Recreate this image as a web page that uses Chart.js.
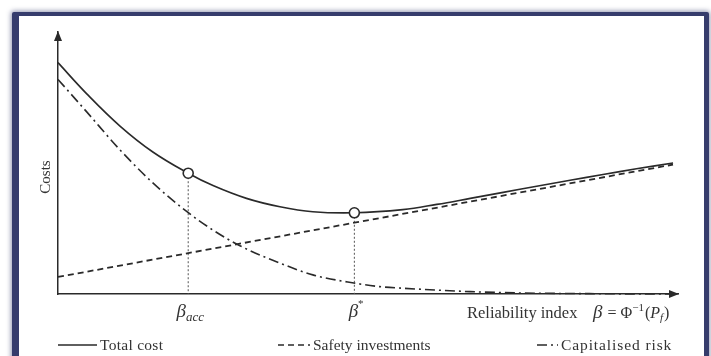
<!DOCTYPE html>
<html>
<head>
<meta charset="utf-8">
<script src="https://cdn.jsdelivr.net/npm/chart.js@4/dist/chart.umd.min.js"></script>
<style>
  html, body { margin: 0; padding: 0; background: #ffffff; overflow: hidden; }
  body { width: 711px; height: 356px; position: relative; }
  #frame {
    position: absolute; left: 12px; top: 12px; width: 685px; height: 380px;
    background: #ffffff;
    border-style: solid; border-color: #363c6c;
    border-width: 4px 5px 5px 7px;
    box-shadow: 0 0 5px 1px rgba(54, 60, 108, 0.55);
    border-radius: 2px;
  }
  #wrap { position: absolute; left: 0; top: 0; width: 711px; height: 356px; }
</style>
</head>
<body>
<div id="frame"></div>
<div id="wrap"><canvas id="chart" width="711" height="356"></canvas></div>
<script>
// Reliability index positions (x) and cost levels (y), arbitrary units
const totalX   = [0, 0.46, 1.0, 1.53, 2.1, 2.5, 3.04, 3.58, 4.11, 4.78, 5.56, 6.11, 6.65, 7.18, 7.72, 8.26, 8.79, 9.33, 9.92];
const totalY   = [8.83, 7.65, 6.41, 5.42, 4.61, 4.14, 3.65, 3.33, 3.14, 3.10, 3.22, 3.42, 3.65, 3.88, 4.11, 4.34, 4.56, 4.78, 5.00];

const safetyX  = [0, 2.1, 4.78, 9.92];
const safetyY  = [0.65, 1.56, 2.72, 4.94];

const riskX    = [0, 0.46, 1.0, 1.53, 2.08, 2.5, 2.96, 3.58, 4.11, 4.77, 5.19, 5.56, 6.11, 6.65, 7.45, 8.74, 9.92];
const riskY    = [8.19, 6.96, 5.50, 4.24, 3.14, 2.44, 1.81, 1.18, 0.73, 0.42, 0.28, 0.22, 0.15, 0.09, 0.04, 0.01, 0.0];

// Acceptable and optimal reliability levels, marked on the total cost curve
const betaLabels = ['acc', '*'];
const betaX      = [2.1, 4.78];
const betaY      = [4.61, 3.10];

const seriesLabels = ['Total cost', 'Safety investments', 'Capitalised risk'];
const axisTitles   = ['Costs', 'Reliability index'];

const pts = (xs, ys) => xs.map((x, i) => ({ x: x, y: ys[i] }));
const SERIF = '"Liberation Serif", "DejaVu Serif", serif';
const INK = '#2a2a2a';
const TEXT = '#333333';

// Arrowheads on both axes, axis captions, beta labels and the legend row
const annotate = {
  id: 'annotate',
  afterDraw(chart) {
    const { ctx, chartArea: a, scales: { x } } = chart;
    ctx.save();
    ctx.fillStyle = INK;
    // y arrow
    ctx.beginPath();
    ctx.moveTo(a.left, a.top - 1);
    ctx.lineTo(a.left - 4, a.top + 9);
    ctx.lineTo(a.left + 4, a.top + 9);
    ctx.closePath();
    ctx.fill();
    // x arrow
    ctx.beginPath();
    ctx.moveTo(a.right + 1, a.bottom);
    ctx.lineTo(a.right - 9, a.bottom - 4);
    ctx.lineTo(a.right - 9, a.bottom + 4);
    ctx.closePath();
    ctx.fill();

    // y caption
    ctx.save();
    ctx.translate(a.left - 8, (a.top + a.bottom) / 2 + 14);
    ctx.rotate(-Math.PI / 2);
    ctx.font = '15px ' + SERIF;
    ctx.textAlign = 'center';
    ctx.textBaseline = 'alphabetic';
    ctx.fillStyle = TEXT;
    ctx.fillText(axisTitles[0], 0, 0);
    ctx.restore();

    // beta labels under the axis
    ctx.fillStyle = TEXT;
    ctx.textBaseline = 'alphabetic';
    betaX.forEach((bx, i) => {
      const px = x.getPixelForValue(bx);
      const base = a.bottom + 23;
      ctx.font = 'italic 19px ' + SERIF;
      const wB = ctx.measureText('β').width;
      if (betaLabels[i] === '*') {
        ctx.textAlign = 'left';
        ctx.fillText('β', px - wB / 2 - 1, base);
        ctx.font = '11px ' + SERIF;
        ctx.fillText('*', px + wB / 2 - 1, base - 10);
      } else {
        ctx.font = 'italic 13px ' + SERIF;
        const wS = ctx.measureText(betaLabels[i]).width;
        const left = px - (wB + wS) / 2 + 2;
        ctx.font = 'italic 19px ' + SERIF;
        ctx.textAlign = 'left';
        ctx.fillText('β', left, base);
        ctx.font = 'italic 13px ' + SERIF;
        ctx.fillText(betaLabels[i], left + wB, base + 4);
      }
    });

    // x caption: Reliability index  β = Φ⁻¹(P_f)
    const capBase = a.bottom + 24;
    let cx = 467;
    ctx.textAlign = 'left';
    ctx.font = '16.5px ' + SERIF;
    ctx.fillText(axisTitles[1], cx, capBase);
    cx = 593;
    ctx.font = 'italic 19px ' + SERIF;
    ctx.fillText('β', cx, capBase);
    cx += ctx.measureText('β').width + 5;
    ctx.font = '16px ' + SERIF;
    ctx.fillText('= Φ', cx, capBase);
    cx += ctx.measureText('= Φ').width;
    ctx.font = '11px ' + SERIF;
    ctx.fillText('−1', cx, capBase - 7);
    cx += ctx.measureText('−1').width + 1;
    ctx.font = '16px ' + SERIF;
    ctx.fillText('(', cx, capBase);
    cx += ctx.measureText('(').width;
    ctx.font = 'italic 16px ' + SERIF;
    ctx.fillText('P', cx, capBase);
    cx += ctx.measureText('P').width;
    ctx.font = 'italic 11px ' + SERIF;
    ctx.fillText('f', cx, capBase + 3);
    cx += ctx.measureText('f').width + 1;
    ctx.font = '16px ' + SERIF;
    ctx.fillText(')', cx, capBase);

    // legend row: sample stroke, then the label spread toward its slot end
    const legendY = 350;
    const items = [
      { ds: 0, x0: 58, x1: 97, end: 163 },
      { ds: 1, x0: 278, x1: 310, end: 429 },
      { ds: 2, x0: 537, x1: 558, end: 672 }
    ];
    items.forEach(it => {
      const ds = chart.data.datasets[it.ds];
      ctx.save();
      ctx.strokeStyle = ds.borderColor;
      ctx.lineWidth = 1.5;
      ctx.setLineDash(ds.borderDash || []);
      ctx.beginPath();
      ctx.moveTo(it.x0, legendY - 5);
      ctx.lineTo(it.x1, legendY - 5);
      ctx.stroke();
      ctx.restore();
      ctx.save();
      ctx.font = '15.5px ' + SERIF;
      ctx.fillStyle = TEXT;
      ctx.textAlign = 'left';
      const tx = it.x1 + 3;
      const w = ctx.measureText(ds.label).width;
      const n = ds.label.length;
      const sp = Math.max(0, Math.min(0.9, (it.end - tx - w) / (n - 1)));
      ctx.letterSpacing = sp.toFixed(2) + 'px';
      ctx.fillText(ds.label, tx, legendY);
      ctx.restore();
    });
    ctx.restore();
  }
};

const curve = (label, xs, ys, dash) => ({
  label: label,
  data: pts(xs, ys),
  showLine: true,
  borderColor: INK,
  borderWidth: 1.6,
  borderDash: dash,
  pointRadius: 0,
  pointHoverRadius: 0,
  cubicInterpolationMode: 'monotone',
  fill: false,
  clip: false,
  order: 2
});

const dropLines = betaX.map((bx, i) => ({
  label: 'drop' + i,
  data: [{ x: bx, y: betaY[i] }, { x: bx, y: 0 }],
  showLine: true,
  borderColor: '#555',
  borderWidth: 1,
  borderDash: [2, 2],
  pointRadius: 0,
  clip: false,
  order: 3
}));

new Chart(document.getElementById('chart'), {
  type: 'scatter',
  data: {
    datasets: [
      Object.assign(curve(seriesLabels[0], totalX, totalY, []), { cubicInterpolationMode: 'default', tension: 0.4 }),
      Object.assign(curve(seriesLabels[1], safetyX, safetyY, [6, 4]), { cubicInterpolationMode: 'default', tension: 0, borderWidth: 1.8 }),
      curve(seriesLabels[2], riskX, riskY, [10, 4, 2, 4]),
      ...dropLines,
      {
        label: 'levels',
        data: pts(betaX, betaY),
        showLine: false,
        pointRadius: 5,
        pointBorderWidth: 1.6,
        pointBackgroundColor: '#ffffff',
        pointBorderColor: INK,
        clip: false,
        order: 0
      }
    ]
  },
  options: {
    responsive: false,
    animation: false,
    events: [],
    layout: { padding: { left: 58, top: 32, right: 33, bottom: 62 } },
    plugins: { legend: { display: false }, tooltip: { enabled: false } },
    scales: {
      x: {
        type: 'linear', min: 0, max: 10,
        grid: { display: false, drawTicks: false },
        ticks: { display: false },
        border: { display: true, color: INK, width: 1.5 }
      },
      y: {
        type: 'linear', min: 0, max: 10,
        grid: { display: false, drawTicks: false },
        ticks: { display: false },
        border: { display: true, color: INK, width: 1.5 }
      }
    }
  },
  plugins: [annotate]
});
</script>
</body>
</html>
